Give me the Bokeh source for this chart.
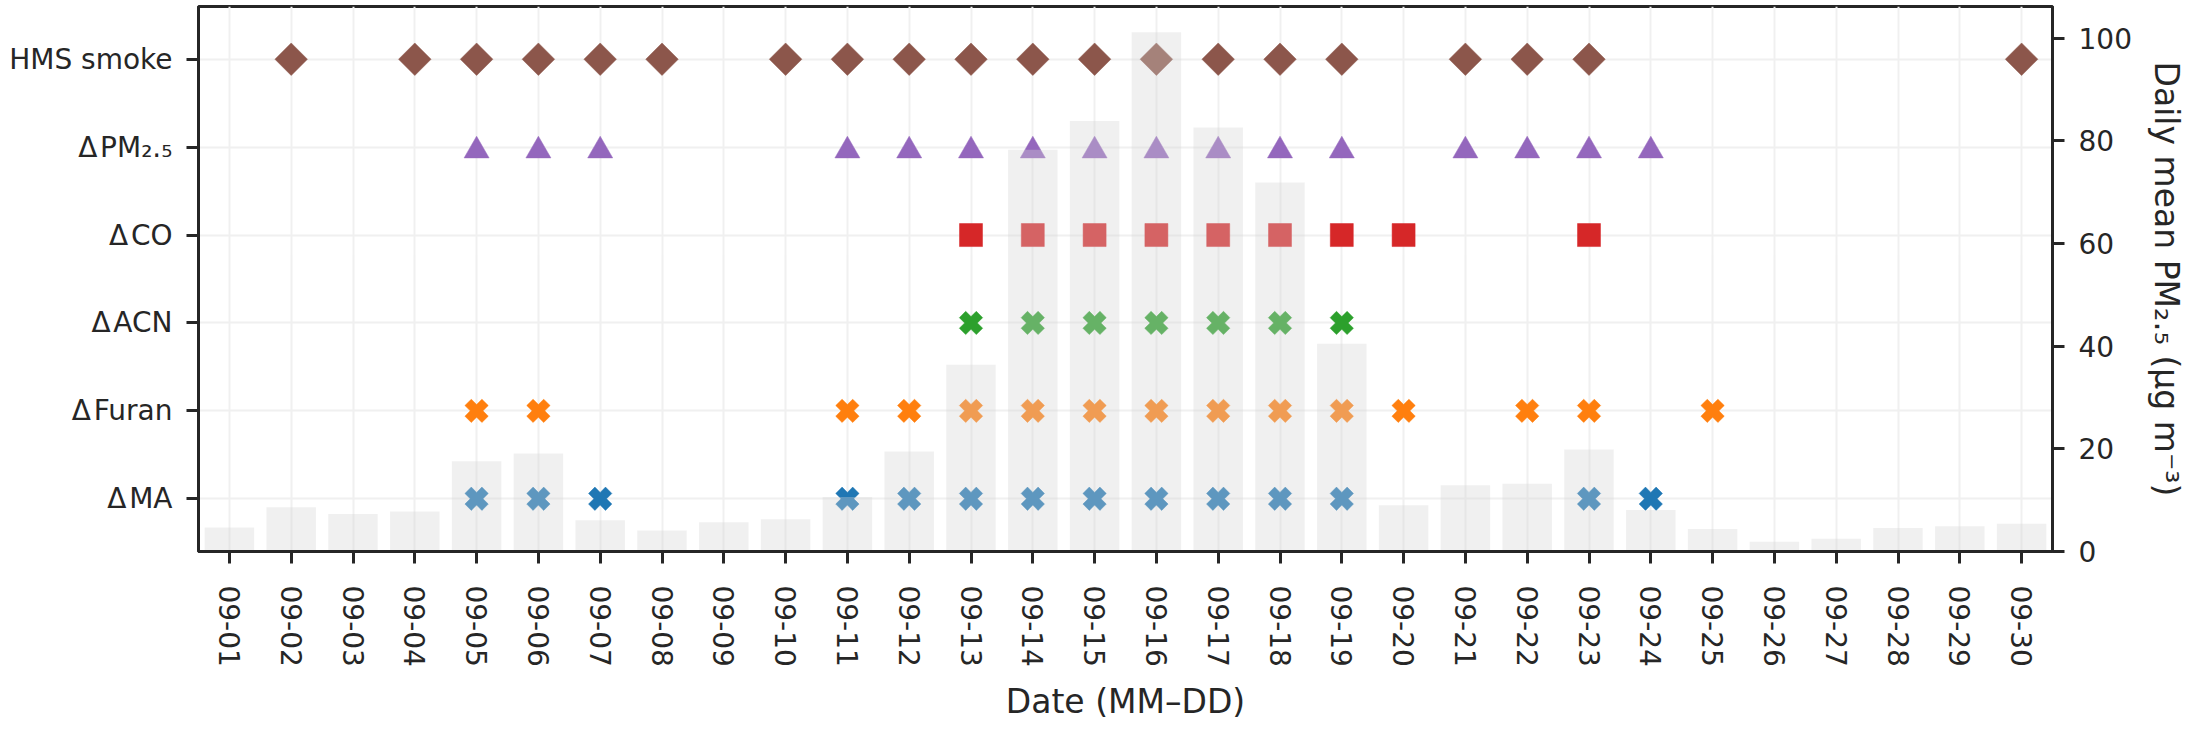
from bokeh.plotting import figure
from bokeh.models import Range1d, LinearAxis, FixedTicker, ColumnDataSource
from bokeh.transform import dodge
from bokeh.embed import file_html
from bokeh.resources import INLINE
import numpy as np

# x categories (days of September)
dates = ["09-01", "09-02", "09-03", "09-04", "09-05", "09-06", "09-07", "09-08", "09-09", "09-10",
         "09-11", "09-12", "09-13", "09-14", "09-15", "09-16", "09-17", "09-18", "09-19", "09-20",
         "09-21", "09-22", "09-23", "09-24", "09-25", "09-26", "09-27", "09-28", "09-29", "09-30"]

# daily mean PM2.5 (ug m-3)
pm25 = [4.7, 8.6, 7.3, 7.8, 17.6, 19.1, 6.1, 4.1, 5.7, 6.3,
        10.6, 19.5, 36.4, 78.3, 83.9, 101.2, 82.6, 71.9, 40.5, 9.0,
        12.9, 13.2, 19.9, 8.1, 4.4, 1.9, 2.5, 4.6, 4.9, 5.4]

# row labels, bottom to top
rows = ["\u0394\u200aMA", "\u0394\u200aFuran", "\u0394\u200aACN", "\u0394\u200aCO",
        "\u0394\u200aPM\u2082.\u2085", "HMS smoke"]

# flagged days per row
ma_days = ["09-05", "09-06", "09-07", "09-11", "09-12", "09-13", "09-14", "09-15", "09-16",
           "09-17", "09-18", "09-19", "09-23", "09-24"]
furan_days = ["09-05", "09-06", "09-11", "09-12", "09-13", "09-14", "09-15", "09-16", "09-17",
              "09-18", "09-19", "09-20", "09-22", "09-23", "09-25"]
acn_days = ["09-13", "09-14", "09-15", "09-16", "09-17", "09-18", "09-19"]
co_days = ["09-13", "09-14", "09-15", "09-16", "09-17", "09-18", "09-19", "09-20", "09-23"]
pm_days = ["09-05", "09-06", "09-07", "09-11", "09-12", "09-13", "09-14", "09-15", "09-16",
           "09-17", "09-18", "09-19", "09-21", "09-22", "09-23", "09-24"]
hms_days = ["09-02", "09-04", "09-05", "09-06", "09-07", "09-08", "09-10", "09-11", "09-12",
            "09-13", "09-14", "09-15", "09-16", "09-17", "09-18", "09-19", "09-21", "09-22",
            "09-23", "09-30"]

ink = "#262626"
font = "DejaVu Sans"

p = figure(x_range=Range1d(-0.5, len(dates) - 0.5), y_range=Range1d(-0.6, len(rows) - 0.4),
           frame_width=1854, frame_height=545,
           min_border_left=198, min_border_right=136, min_border_top=6, min_border_bottom=169,
           output_backend="svg", toolbar_location=None, background_fill_color="white",
           outline_line_color=ink, outline_line_width=3)
p.extra_y_ranges = {"pm": Range1d(0, 106.2)}

xpos = list(range(len(dates)))

#markers first, so the translucent bars sit on top of them
#(days, row, marker, colour, size, angle, vertical nudge so the shape is centred)
series = [
    (ma_days, 0, "plus", "#1f77b4", 24, np.pi / 4, 0),
    (furan_days, 1, "plus", "#ff7f0e", 24, np.pi / 4, 0),
    (acn_days, 2, "plus", "#2ca02c", 24, np.pi / 4, 0),
    (co_days, 3, "square", "#d62728", 23, 0, 0),
    (pm_days, 4, "triangle", "#9467bd", 25, 0, -0.04),
    (hms_days, 5, "square", "#8c564b", 23, np.pi / 4, 0),
]
for days, row, marker, color, size, angle, nudge in series:
    src = ColumnDataSource(data=dict(x=[dates.index(d) for d in days], y=[row] * len(days)))
    p.scatter(x="x", y=dodge("y", nudge, range=p.y_range), source=src, marker=marker,
              size=size, angle=angle, fill_color=color, line_color=color, line_width=0.5)

#bars on the right axis
p.vbar(x=xpos, top=pm25, width=0.8, bottom=0, y_range_name="pm",
       fill_color="#d3d3d3", fill_alpha=0.35, line_color=None)

right = LinearAxis(y_range_name="pm", ticker=FixedTicker(ticks=[0, 20, 40, 60, 80, 100]),
                   axis_label="Daily mean PM\u2082.\u2085 (\u00b5g m\u207b\u00b3)")
p.add_layout(right, "right")

xt = FixedTicker(ticks=xpos)
yt = FixedTicker(ticks=list(range(len(rows))))
p.xaxis.ticker = xt
p.xgrid.ticker = xt
p.left[0].ticker = yt
p.ygrid.ticker = yt
p.xaxis.major_label_overrides = {i: d for i, d in enumerate(dates)}
p.left[0].major_label_overrides = {i: r for i, r in enumerate(rows)}
p.xaxis.major_label_orientation = "vertical"
p.xaxis.axis_label = "Date (MM\u2013DD)"

for ax in [p.below[0], p.left[0], right]:
    ax.axis_line_color = ink
    ax.axis_line_width = 3
    ax.major_tick_line_color = ink
    ax.major_tick_line_width = 3
    ax.major_tick_out = 12
    ax.major_tick_in = 0
    ax.minor_tick_out = 0
    ax.minor_tick_in = 0
    ax.major_label_text_font = font
    ax.major_label_text_font_size = "28px"
    ax.major_label_text_color = ink
    ax.axis_label_text_font = font
    ax.axis_label_text_font_size = "33px"
    ax.axis_label_text_font_style = "normal"
    ax.axis_label_text_color = ink
    ax.major_label_standoff = 14
    ax.axis_label_standoff = 12
p.below[0].major_label_standoff = 22

p.grid.grid_line_color = "#f0f0f0"
p.grid.grid_line_width = 2

open("out.html", "w").write(file_html(p, INLINE))
